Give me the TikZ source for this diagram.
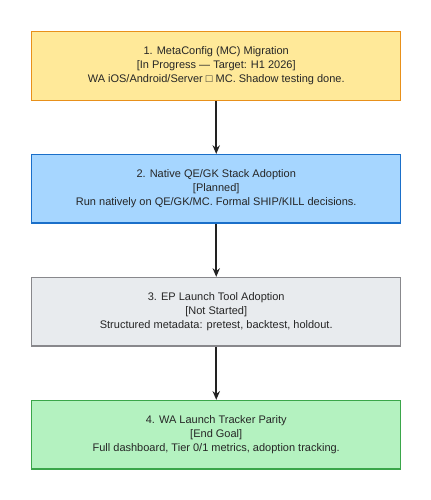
\documentclass[tikz,border=0pt]{standalone}
\usepackage{fontspec}
\setmainfont{Liberation Sans}
\usepackage{tikz}
\usetikzlibrary{
	arrows.meta,
	positioning
}
\definecolor{PhaseYellow}{RGB}{255,233,153}
\definecolor{PhaseOrange}{RGB}{232,144,26}
\definecolor{PhaseBlue}{RGB}{166,214,255}
\definecolor{PhaseDarkBlue}{RGB}{26,111,201}
\definecolor{PhaseGray}{RGB}{232,235,238}
\definecolor{PhaseDarkGray}{RGB}{136,136,140}
\definecolor{PhaseGreen}{RGB}{180,242,192}
\definecolor{PhaseDarkGreen}{RGB}{58,166,74}
\definecolor{ArrowInk}{RGB}{34,34,34}

\begin{document}
\begin{tikzpicture}[
		phase/.style={draw, line width=1.1pt, minimum width=276.75pt, minimum height=51.4pt,
			align=center, font=\fontsize{8.25}{10.5}\selectfont, text=black!85, inner sep=0pt},
		flow/.style={-{Stealth[length=6.5pt, width=5.5pt]}, line width=1.2pt, ArrowInk},
		node distance=39.7pt
	]
		% fixed frame as in the reference
		\useasboundingbox (0,0) rectangle (323.25pt,-375pt);
		
		% phases, top to bottom
		\node[phase, fill=PhaseYellow, draw=PhaseOrange, anchor=north west] (mc) at (23.25pt,-23.25pt)
			{1. MetaConfig (MC) Migration\\{[In Progress — Target: H1 2026]}\\WA iOS/Android/Server □ MC. Shadow testing done.};
		\node[phase, fill=PhaseBlue, draw=PhaseDarkBlue, below=of mc] (qegk)
			{2. Native QE/GK Stack Adoption\\{[Planned]}\\Run natively on QE/GK/MC. Formal SHIP/KILL decisions.};
		\node[phase, fill=PhaseGray, draw=PhaseDarkGray, below=of qegk] (ep)
			{3. EP Launch Tool Adoption\\{[Not Started]}\\Structured metadata: pretest, backtest, holdout.};
		\node[phase, fill=PhaseGreen, draw=PhaseDarkGreen, below=of ep] (parity)
			{4. WA Launch Tracker Parity\\{[End Goal]}\\Full dashboard, Tier 0/1 metrics, adoption tracking.};
		
		% arrows
		\draw[flow] (mc) -- (qegk);
		\draw[flow] (qegk) -- (ep);
		\draw[flow] (ep) -- (parity);
	\end{tikzpicture}
\end{document}
